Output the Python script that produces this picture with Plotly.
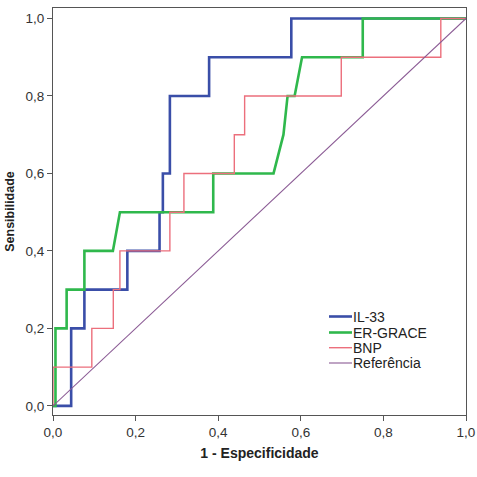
import plotly.graph_objects as go

# ROC curve vertices (1 - Especificidade, Sensibilidade)
il33_x = [0, 0.044, 0.044, 0.076, 0.076, 0.18, 0.18, 0.258, 0.258, 0.266, 0.266, 0.283, 0.283, 0.378, 0.378, 0.577, 0.577, 1.0]
il33_y = [0, 0, 0.2, 0.2, 0.3, 0.3, 0.4, 0.4, 0.5, 0.5, 0.6, 0.6, 0.8, 0.8, 0.9, 0.9, 1.0, 1.0]

grace_x = [0, 0.006, 0.006, 0.033, 0.033, 0.076, 0.076, 0.145, 0.162, 0.388, 0.388, 0.534, 0.558, 0.568, 0.585, 0.603, 0.75, 0.75, 1.0]
grace_y = [0, 0, 0.2, 0.2, 0.3, 0.3, 0.4, 0.4, 0.5, 0.5, 0.6, 0.6, 0.7, 0.8, 0.8, 0.9, 0.9, 1.0, 1.0]

bnp_x = [0, 0, 0.094, 0.094, 0.146, 0.146, 0.162, 0.162, 0.283, 0.283, 0.317, 0.317, 0.439, 0.439, 0.464, 0.464, 0.698, 0.698, 0.939, 0.939, 1.0]
bnp_y = [0, 0.1, 0.1, 0.2, 0.2, 0.3, 0.3, 0.4, 0.4, 0.5, 0.5, 0.6, 0.6, 0.7, 0.7, 0.8, 0.8, 0.9, 0.9, 1.0, 1.0]

ref_x = [0, 1]
ref_y = [0, 1]

series_names = ["IL-33", "ER-GRACE", "BNP", "Referência"]
series_colors = ["#3a4ea8", "#2fb84c", "#ec6f7c", "#8a5a94"]
series_widths = [2.6, 2.6, 1.4, 1.1]
series_data = [(il33_x, il33_y), (grace_x, grace_y), (bnp_x, bnp_y), (ref_x, ref_y)]

fig = go.Figure()
for (xs, ys), name, col, w in zip(series_data, series_names, series_colors, series_widths):
    fig.add_trace(go.Scatter(x=xs, y=ys, mode="lines", name=name,
                             line=dict(color=col, width=w), showlegend=False,
                             hoverinfo="skip"))

# plot area in pixels
L, R, T, B = 53, 466, 8, 415
W, H = 477, 477

def px(x):
    return (x - L) / (R - L)

def py(y):
    return (B - y) / (B - T)

FONT = "Liberation Sans, Arial"

# manual legend (compact spacing like original)
leg_rows = [316.5, 332.5, 347.7, 363]
for name, col, w, yy in zip(series_names, series_colors, series_widths, leg_rows):
    fig.add_shape(type="line", xref="paper", yref="paper",
                  x0=px(329), x1=px(352), y0=py(yy), y1=py(yy),
                  line=dict(color=col, width=w))
    fig.add_annotation(xref="paper", yref="paper", x=px(351), y=py(yy),
                       text=name, showarrow=False, xanchor="left", yanchor="middle",
                       font=dict(family=FONT, size=14, color="#222"))

axis_common = dict(showline=True, linecolor="#555", linewidth=1, mirror=True,
                   ticks="outside", ticklen=5, tickcolor="#555", showgrid=False,
                   zeroline=False, tickformat=".1f", automargin=False,
                   tickfont=dict(family=FONT, size=13.5, color="#333"))

fig.update_layout(
    width=W, height=H,
    margin=dict(l=L, r=W - R, t=T, b=H - B),
    paper_bgcolor="white", plot_bgcolor="white",
    separators=",.",
    xaxis=dict(range=[0, 1], tickvals=[0, 0.2, 0.4, 0.6, 0.8, 1.0],
               title=dict(text="<b>1 - Especificidade</b>", standoff=8,
                          font=dict(family=FONT, size=14, color="#222")),
               **axis_common),
    yaxis=dict(range=[-0.0235, 1.027], tickvals=[0, 0.2, 0.4, 0.6, 0.8, 1.0],
               title=dict(text="<b>Sensibilidade</b>", standoff=8,
                          font=dict(family=FONT, size=12.5, color="#222")),
               **axis_common),
    showlegend=False,
)

fig.write_html("out.html")
